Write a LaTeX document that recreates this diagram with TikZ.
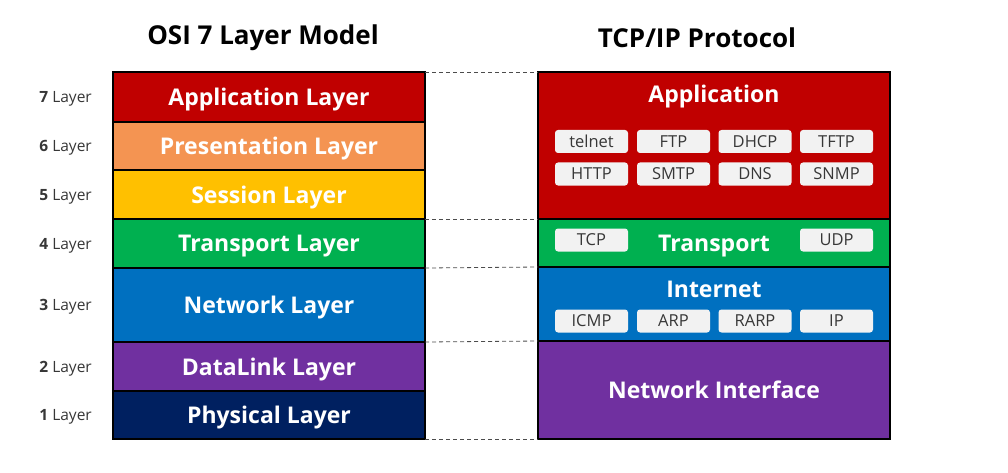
\documentclass[tikz,border=0pt]{standalone}
\usepackage{fontspec}
\setmainfont{Open Sans}
\usetikzlibrary{positioning}
\definecolor{appred}{RGB}{192, 0, 0}
\definecolor{presorange}{RGB}{244, 148, 82}
\definecolor{sessyellow}{RGB}{255, 192, 0}
\definecolor{transgreen}{RGB}{0, 176, 80}
\definecolor{netblue}{RGB}{0, 112, 192}
\definecolor{linkpurple}{RGB}{112, 48, 160}
\definecolor{physnavy}{RGB}{0, 32, 96}
\definecolor{protofill}{RGB}{242, 242, 242}
\definecolor{prototext}{RGB}{55, 55, 55}

\begin{document}
\begin{tikzpicture}[x=1pt, y=-1pt,
  layer/.style={draw=black, line width=1.6pt, outer sep=0pt, inner sep=0pt, text depth=0pt,
    minimum width=312pt, text=white, font=\bfseries\fontsize{23}{27}\selectfont},
  tcpip/.style={layer, minimum width=352pt},
  lnum/.style={text=prototext, font=\fontsize{15.5}{18}\selectfont, inner sep=0pt, text depth=0pt},
  title/.style={font=\bfseries\fontsize{26}{30}\selectfont},
  proto/.style={fill=protofill, rounded corners=3pt, minimum width=73pt, minimum height=23pt,
    inner sep=0pt, text depth=0pt, text=prototext, font=\fontsize{16.5}{19}\selectfont},
  match/.style={draw=black!70, line width=0.8pt, dash pattern=on 4pt off 3pt}]
  \useasboundingbox (0,0) rectangle (1008,473);

  % titles
  \node[title] (osititle) at (263,38) {OSI 7 Layer Model};
  \node[title] (tcptitle) at (697,38) {TCP/IP Protocol};

  % OSI stack
  \node[layer, fill=appred, minimum height=50pt] (osi7) at (269,97) {Application Layer};
  \node[layer, fill=presorange, minimum height=48pt, below=0pt of osi7] (osi6) {Presentation Layer};
  \node[layer, fill=sessyellow, minimum height=49pt, below=0pt of osi6] (osi5) {Session Layer};
  \node[layer, fill=transgreen, minimum height=49pt, below=0pt of osi5] (osi4) {Transport Layer};
  \node[layer, fill=netblue, minimum height=74pt, below=0pt of osi4] (osi3) {Network Layer};
  \node[layer, fill=linkpurple, minimum height=49pt, below=0pt of osi3] (osi2) {DataLink Layer};
  \node[layer, fill=physnavy, minimum height=48pt, below=0pt of osi2] (osi1) {Physical Layer};

  \foreach \n in {1,...,7}
    \node[lnum, left=21pt of osi\n] (num\n) {\textbf{\n} Layer};

  % TCP/IP stack
  \node[tcpip, fill=appred, minimum height=147pt] (tapp) at (714,145.5) {};
  \node[tcpip, fill=transgreen, minimum height=48pt, below=0pt of tapp] (ttrans) {Transport};
  \node[tcpip, fill=netblue, minimum height=74pt, below=0pt of ttrans] (tnet) {};
  \node[tcpip, fill=linkpurple, minimum height=98pt, below=0pt of tnet] (tlink) {Network Interface};
  \node[layer, draw=none] (apptext) at (714,94) {Application};
  \node[layer, draw=none] (nettext) at (714,289.5) {Internet};

  \foreach \nm/\lbl/\x/\y in {telnet/telnet/591.5/141.5, ftp/FTP/673.5/141.5,
      dhcp/DHCP/755/141.5, tftp/TFTP/836.5/141.5,
      http/HTTP/591.5/174, smtp/SMTP/673.5/174, dns/DNS/755/174, snmp/SNMP/836.5/174,
      tcp/TCP/591.5/240, udp/UDP/836.5/240,
      icmp/ICMP/591.5/321, arp/ARP/673.5/321, rarp/RARP/755/321, ip/IP/836.5/321}
    \node[proto] (\nm) at (\x,\y) {\lbl};

  % matching levels
  \draw[match] (osi7.north east) -- (tapp.north west);
  \draw[match] (osi4.north east) -- (ttrans.north west);
  \draw[match] (osi3.north east) -- (tnet.north west);
  \draw[match] (osi2.north east) -- (tlink.north west);
  \draw[match] (osi1.south east) -- (tlink.south west);
\end{tikzpicture}
\end{document}
